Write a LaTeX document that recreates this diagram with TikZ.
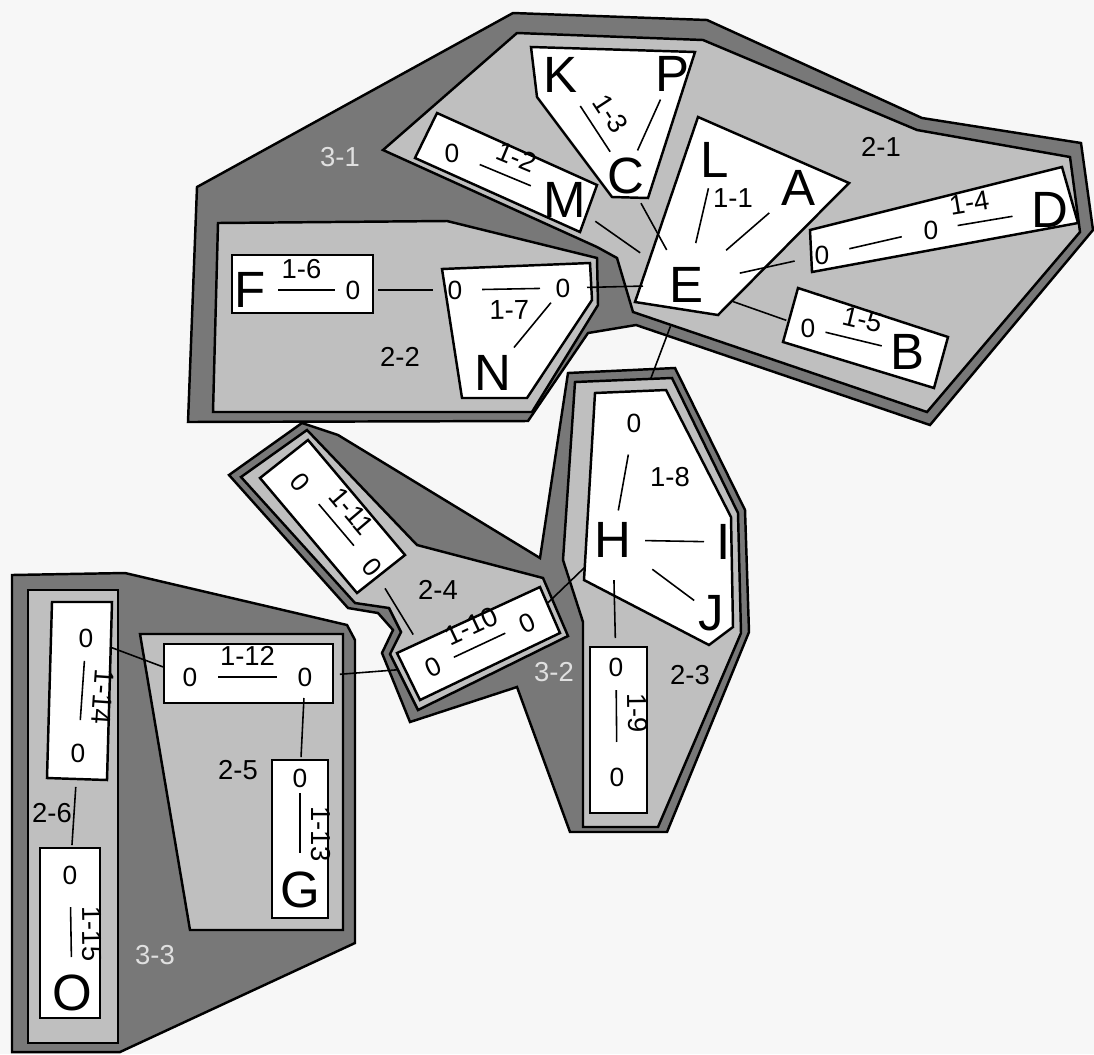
\documentclass[tikz,border=0pt]{standalone}
\usepackage{fontspec}
\setmainfont{Liberation Sans}
\usetikzlibrary{calc}

\begin{document}
\begin{tikzpicture}[x=0.01cm, y=-0.01cm,
  tierthree/.style={draw, line width=0.7pt, fill=black!53},
  tiertwo/.style={draw, line width=0.7pt, fill=black!25},
  tierone/.style={draw, line width=0.7pt, fill=white},
  ltr/.style={font=\fontsize{14.5}{15}\selectfont, inner sep=0pt},
  zro/.style={font=\fontsize{7.5}{8}\selectfont, inner sep=0pt},
  reg/.style={font=\fontsize{7.8}{8}\selectfont},
  pale/.style={reg, text=black!12},
  wire/.style={line width=0.45pt},
  tag/.style={font=\fontsize{7.8}{8}\selectfont, sloped, allow upside down,
    inner sep=3pt}
]
  \fill[black!3] (0,0) rectangle (1094,1054);
  \useasboundingbox (0,0) rectangle (1094,1054);

  % level 3
  \draw[tierthree] (513,13) -- (707,20) -- (922,118) -- (1081,143) -- (1093,230)
    -- (930,425) -- (636,325) -- (588,333) -- (528,421) -- (188,422) -- (197,187) -- cycle;
  \draw[tierthree] (568,373) -- (675,368) -- (745,510) -- (749,632) -- (667,832)
    -- (570,832) -- (517,687) -- (410,722) -- (382,653) -- (393,630) -- (378,613)
    -- (348,608) -- (229,475) -- (302,423) -- (338,435) -- (540,558) -- cycle;
  \draw[tierthree] (12,575) -- (125,573) -- (347,625) -- (355,640) -- (355,943)
    -- (120,1052) -- (12,1052) -- cycle;

  % level 2
  \draw[tiertwo] (383,150) -- (517,33) -- (703,40) -- (917,130) -- (1070,157)
    -- (1080,232) -- (927,412) -- (633,312) -- (617,258) -- (597,247) -- cycle;
  \draw[tiertwo] (218,223) -- (447,221) -- (597,258) -- (598,305) -- (532,412)
    -- (213,412) -- cycle;
  \draw[tiertwo] (575,382) -- (672,378) -- (738,513) -- (741,633) -- (658,827)
    -- (583,827) -- (583,622) -- (563,560) -- cycle;
  \draw[tiertwo] (241,477) -- (307,430) -- (417,545) -- (543,578) -- (568,636)
    -- (418,710) -- (390,654) -- (401,632) -- (389,608) -- (355,603) -- cycle;
  \draw[tiertwo] (140,634) -- (343,634) -- (343,930) -- (190,930) -- cycle;
  \draw[tiertwo] (28,590) rectangle (118,1043);

  % level 1
  \draw[tierone] (531,47) -- (695,52) -- (648,198) -- (612,197) -- (537,97) -- cycle;
  \draw[tierone] (437,113) -- (597,185) -- (580,232) -- (415,158) -- cycle;
  \draw[tierone] (698,117) -- (849,183) -- (718,315) -- (635,302) -- cycle;
  \draw[tierone] (810,230) -- (1062,167) -- (1078,223) -- (812,272) -- cycle;
  \draw[tierone] (798,288) -- (948,337) -- (934,388) -- (783,342) -- cycle;
  \draw[tierone] (232,255) rectangle (373,313);
  \draw[tierone] (442,269) -- (590,263) -- (592,300) -- (527,398) -- (462,398) -- cycle;
  \draw[tierone] (595,393) -- (666,390) -- (731,517) -- (733,627) -- (709,645)
    -- (584,580) -- cycle;
  \draw[tierone] (590,647) rectangle (647,813);
  \draw[tierone] (260,478) -- (308,440) -- (405,555) -- (357,593) -- cycle;
  \draw[tierone] (397,653) -- (540,587) -- (560,633) -- (420,700) -- cycle;
  \draw[tierone] (164,644) rectangle (333,703);
  \draw[tierone] (272,760) rectangle (328,918);
  \draw[tierone] (52,602) -- (112,602) -- (107,780) -- (47,778) -- cycle;
  \draw[tierone] (40,848) rectangle (100,1018);

  % letters
  \node[ltr] (K) at (560,75) {K};
  \node[ltr] (P) at (672,74) {P};
  \node[ltr] (C) at (626,176) {C};
  \node[ltr] (M) at (565,200) {M};
  \node[ltr] (L) at (715,160) {L};
  \node[ltr] (A) at (798,188) {A};
  \node[ltr] (E) at (686,285) {E};
  \node[ltr] (D) at (1050,210) {D};
  \node[ltr] (B) at (907,352) {B};
  \node[ltr] (F) at (250,290) {F};
  \node[ltr] (N) at (493,373) {N};
  \node[ltr] (H) at (613,540) {H};
  \node[ltr] (I) at (724,542) {I};
  \node[ltr] (J) at (711,613) {J};
  \node[ltr] (G) at (300,890) {G};
  \node[ltr] (O) at (72,993) {O};

  % zeros
  \node[zro] (m0) at (452,153) {0};
  \node[zro] (f0) at (353,290) {0};
  \node[zro] (l7) at (455,290) {0};
  \node[zro] (r7) at (563,288) {0};
  \node[zro] (da) at (822,255) {0};
  \node[zro] (db) at (931,230) {0};
  \node[zro] (b0) at (808,328) {0};
  \node[zro] (t8) at (634,423) {0};
  \node[zro] (n9a) at (616,667) {0};
  \node[zro] (n9b) at (617,777) {0};
  \node[zro, rotate=-50] (t11) at (300,482) {0};
  \node[zro, rotate=-50] (b11) at (372,567) {0};
  \node[zro, rotate=25] (l10) at (433,667) {0};
  \node[zro, rotate=25] (r10) at (527,623) {0};
  \node[zro] (z12a) at (190,677) {0};
  \node[zro] (z12b) at (305,677) {0};
  \node[zro] (g0) at (300,778) {0};
  \node[zro] (z14a) at (86,638) {0};
  \node[zro] (z14b) at (78,753) {0};
  \node[zro] (z15) at (70,875) {0};

  % region labels
  \node[reg] (x11) at (733,198) {1-1};
  \node[reg] (x18) at (670,477) {1-8};
  \node[reg] (x21) at (881,147) {2-1};
  \node[reg] (x22) at (400,357) {2-2};
  \node[reg] (x23) at (690,675) {2-3};
  \node[reg] (x24) at (438,590) {2-4};
  \node[reg] (x25) at (238,770) {2-5};
  \node[reg] (x26) at (52,813) {2-6};
  \node[pale] (x31) at (340,157) {3-1};
  \node[pale] (x32) at (554,672) {3-2};
  \node[pale] (x33) at (155,955) {3-3};

  % connectors
  \draw[wire, shorten <=0.37cm, shorten >=0.29cm] (K.center) -- node[tag, above] {1-3} (C.center);
  \draw[wire, shorten <=0.28cm, shorten >=0.28cm] (P.center) -- (C.center);
  \draw[wire, shorten <=0.30cm, shorten >=0.37cm] (m0.center) -- node[tag, above] {1-2} (M.center);
  \draw[wire, shorten <=0.37cm, shorten >=0.56cm] (M.center) -- (E.center);
  \draw[wire, shorten <=0.31cm, shorten >=0.40cm] (C.center) -- (E.center);
  \draw[wire, shorten <=0.29cm, shorten >=0.43cm] (L.center) -- (E.center);
  \draw[wire, shorten <=0.38cm, shorten >=0.53cm] (A.center) -- (E.center);
  \draw[wire, shorten <=0.55cm, shorten >=0.28cm] (E.center) -- (da.center);
  \draw[wire, shorten <=0.28cm, shorten >=0.30cm] (da.center) -- (db.center);
  \draw[wire, shorten <=0.27cm, shorten >=0.38cm] (db.center) -- node[tag, above, pos=0.35] {1-4} (D.center);
  \draw[wire, shorten <=0.50cm, shorten >=0.23cm] (E.center) -- (b0.center);
  \draw[wire, shorten <=0.18cm, shorten >=0.26cm] (b0.center) -- node[tag, above] {1-5} (B.center);
  \draw[wire, shorten <=0.28cm, shorten >=0.18cm] (F.center) -- node[tag, above] {1-6} (f0.center);
  \draw[wire, shorten <=0.25cm, shorten >=0.22cm] (f0.center) -- (l7.center);
  \draw[wire, shorten <=0.27cm, shorten >=0.23cm] (l7.center) -- node[tag, below] {1-7} (r7.center);
  \draw[wire, shorten <=0.24cm, shorten >=0.43cm] (r7.center) -- (E.center);
  \draw[wire, shorten <=0.33cm, shorten >=0.19cm] (N.center) -- (r7.center);
  \draw[wire, shorten <=0.44cm, shorten >=0.47cm] (E.center) -- (t8.center);
  \draw[wire, shorten <=0.30cm, shorten >=0.32cm] (H.center) -- (t8.center);
  \draw[wire, shorten <=0.32cm, shorten >=0.20cm] (H.center) -- (I.center);
  \draw[wire, shorten <=0.49cm, shorten >=0.21cm] (H.center) -- (J.center);
  \draw[wire, shorten <=0.40cm, shorten >=0.29cm] (H.center) -- (n9a.center);
  \draw[wire, shorten <=0.23cm, shorten >=0.35cm] (n9a.center) -- node[tag, above, pos=0.42] {1-9} (n9b.center);
  \draw[wire, shorten <=0.40cm, shorten >=0.29cm] (H.center) -- (r10.center);
  \draw[wire, shorten <=0.23cm, shorten >=0.24cm] (l10.center) -- node[tag, above] {1-10} (r10.center);
  \draw[wire, shorten <=0.29cm, shorten >=0.28cm] (t11.center) -- node[tag, above] {1-11} (b11.center);
  \draw[wire, shorten <=0.25cm, shorten >=0.38cm] (b11.center) -- (l10.center);
  \draw[wire, shorten <=0.35cm, shorten >=0.36cm] (z12b.center) -- (l10.center);
  \draw[wire, shorten <=0.27cm, shorten >=0.28cm] (z14a.center) -- (z12a.center);
  \draw[wire, shorten <=0.28cm, shorten >=0.28cm] (z12a.center) -- node[tag, above] {1-12} (z12b.center);
  \draw[wire, shorten <=0.21cm, shorten >=0.21cm] (z12b.center) -- (g0.center);
  \draw[wire, shorten <=0.15cm, shorten >=0.37cm] (g0.center) -- node[tag, above] {1-13} (G.center);
  \draw[wire, shorten <=0.23cm, shorten >=0.33cm] (z14a.center) -- node[tag, above] {1-14} (z14b.center);
  \draw[wire, shorten <=0.34cm, shorten >=0.30cm] (z14b.center) -- (z15.center);
  \draw[wire, shorten <=0.32cm, shorten >=0.36cm] (z15.center) -- node[tag, above] {1-15} (O.center);
\end{tikzpicture}
\end{document}
